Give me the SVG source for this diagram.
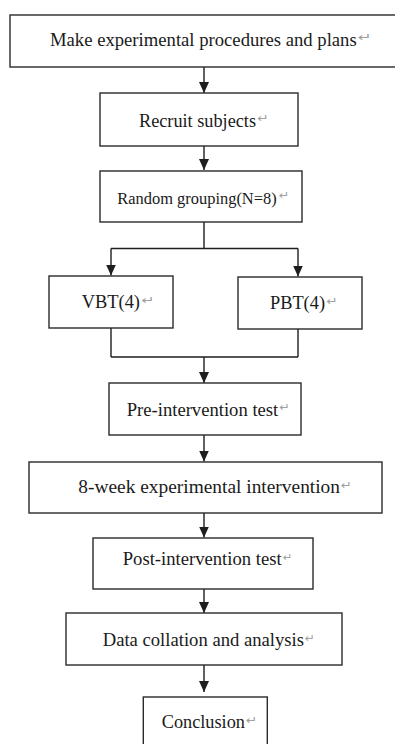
<svg xmlns="http://www.w3.org/2000/svg" width="395" height="744" viewBox="0 0 395 744">
<style>
.box{fill:#fff;stroke:#2a2a2a;stroke-width:1.4}
.lbl{font-family:"Liberation Serif","Times New Roman",serif;font-size:18px;fill:#1a1a1a}
.ret{font-family:"DejaVu Sans",sans-serif;font-size:11px;fill:#a0a0a0}
.ln{fill:none;stroke:#1e1e1e;stroke-width:1.4}
.ar{fill:none;stroke:#1e1e1e;stroke-width:1.4;marker-end:url(#ah)}
</style>
<defs>
<marker id="ah" markerUnits="userSpaceOnUse" markerWidth="11" markerHeight="10" refX="11" refY="5" orient="auto">
<path d="M0,0 L11,5 L0,10 z" fill="#1e1e1e"/>
</marker>
</defs>
<rect width="395" height="744" fill="#fff"/>
<g id="connectors">
<path class="ar" d="M204,67 V93"/>
<path class="ar" d="M204,146 V170"/>
<path class="ln" d="M204,222 V248.5 M111,248.5 H298"/>
<path class="ar" d="M111,248.5 V275.5"/>
<path class="ar" d="M298,248.5 V276.5"/>
<path class="ln" d="M111,328 V357 M298,329 V357 M111,357 H298"/>
<path class="ar" d="M204,357 V383"/>
<path class="ar" d="M204,435 V461.5"/>
<path class="ar" d="M204,513 V537.5"/>
<path class="ar" d="M204,589 V613"/>
<path class="ar" d="M204,665 V692"/>
</g>
<g id="n1">
<rect class="box" x="10" y="15" width="400" height="52"/>
<text class="lbl" x="50" y="45.5" textLength="306.7" lengthAdjust="spacingAndGlyphs">Make experimental procedures and plans</text>
<text class="ret" x="358" y="41" textLength="14" lengthAdjust="spacingAndGlyphs">↵</text>
</g>
<g id="n2">
<rect class="box" x="100" y="93" width="198" height="53"/>
<text class="lbl" x="139" y="126.7" textLength="117" lengthAdjust="spacingAndGlyphs">Recruit subjects</text>
<text class="ret" x="257.5" y="122" textLength="11.5" lengthAdjust="spacingAndGlyphs">↵</text>
</g>
<g id="n3">
<rect class="box" x="100" y="171" width="202" height="51"/>
<text class="lbl" x="117.3" y="203.5" style="font-size:16.4px" textLength="159.4" lengthAdjust="spacingAndGlyphs">Random grouping(N=8)</text>
<text class="ret" x="279" y="199" textLength="10.5" lengthAdjust="spacingAndGlyphs">↵</text>
</g>
<g id="n4">
<rect class="box" x="49" y="276" width="124" height="52"/>
<text class="lbl" x="81.7" y="308.3" textLength="58.3" lengthAdjust="spacingAndGlyphs">VBT(4)</text>
<text class="ret" x="141.5" y="304" textLength="13.5" lengthAdjust="spacingAndGlyphs">↵</text>
</g>
<g id="n5">
<rect class="box" x="238" y="277" width="124" height="52"/>
<text class="lbl" x="270" y="309.3" textLength="55" lengthAdjust="spacingAndGlyphs">PBT(4)</text>
<text class="ret" x="326.5" y="305" textLength="11.5" lengthAdjust="spacingAndGlyphs">↵</text>
</g>
<g id="n6">
<rect class="box" x="109" y="383" width="192" height="52"/>
<text class="lbl" x="126.7" y="415.7" textLength="151.6" lengthAdjust="spacingAndGlyphs">Pre-intervention test</text>
<text class="ret" x="279.5" y="411" textLength="10.5" lengthAdjust="spacingAndGlyphs">↵</text>
</g>
<g id="n7">
<rect class="box" x="29" y="462" width="353" height="51"/>
<text class="lbl" x="78.3" y="493.3" textLength="261.7" lengthAdjust="spacingAndGlyphs">8-week experimental intervention</text>
<text class="ret" x="341" y="489" textLength="11" lengthAdjust="spacingAndGlyphs">↵</text>
</g>
<g id="n8">
<rect class="box" x="93" y="538" width="220" height="51"/>
<text class="lbl" x="122.7" y="565" textLength="159" lengthAdjust="spacingAndGlyphs">Post-intervention test</text>
<text class="ret" x="283" y="560.5" textLength="9.5" lengthAdjust="spacingAndGlyphs">↵</text>
</g>
<g id="n9">
<rect class="box" x="66" y="613" width="276" height="52"/>
<text class="lbl" x="102.7" y="646" textLength="201.3" lengthAdjust="spacingAndGlyphs">Data collation and analysis</text>
<text class="ret" x="305" y="641.5" textLength="10" lengthAdjust="spacingAndGlyphs">↵</text>
</g>
<g id="n10">
<rect class="box" x="143.3" y="697" width="124" height="60"/>
<text class="lbl" x="161.7" y="728.3" textLength="83.3" lengthAdjust="spacingAndGlyphs">Conclusion</text>
<text class="ret" x="246" y="724" textLength="11.5" lengthAdjust="spacingAndGlyphs">↵</text>
</g>
</svg>
